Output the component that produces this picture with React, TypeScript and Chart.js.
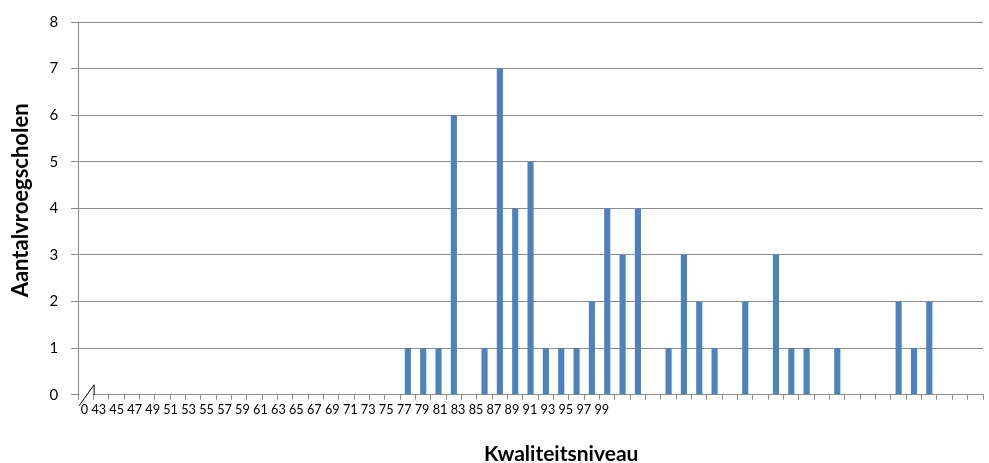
import React, { useEffect, useRef } from "react";
import { Chart, registerables } from "chart.js";

Chart.register(...registerables);

// Tick labels printed under the axis (one continuous row of text in the original)
const tickLabels: string[] = [
  "0", "43", "45", "47", "49", "51", "53", "55", "57", "59", "61", "63", "65", "67", "69",
  "71", "73", "75", "77", "79", "81", "83", "85", "87", "89", "91", "93", "95", "97", "99",
];

// 59 category slots on the x axis
const categories: string[] = [
  "c0", "c1", "c2", "c3", "c4", "c5", "c6", "c7", "c8", "c9",
  "c10", "c11", "c12", "c13", "c14", "c15", "c16", "c17", "c18", "c19",
  "c20", "c21", "c22", "c23", "c24", "c25", "c26", "c27", "c28", "c29",
  "c30", "c31", "c32", "c33", "c34", "c35", "c36", "c37", "c38", "c39",
  "c40", "c41", "c42", "c43", "c44", "c45", "c46", "c47", "c48", "c49",
  "c50", "c51", "c52", "c53", "c54", "c55", "c56", "c57", "c58",
];

// Aantal vroegscholen per category slot
const aantalVroegscholen: number[] = [
  0, 0, 0, 0, 0, 0, 0, 0, 0, 0,
  0, 0, 0, 0, 0, 0, 0, 0, 0, 0,
  0, 1, 1, 1, 6, 0, 1, 7, 4, 5,
  1, 1, 1, 2, 4, 3, 4, 0, 1, 3,
  2, 1, 0, 2, 0, 3, 1, 1, 0, 1,
  0, 0, 0, 2, 1, 2, 0, 0, 0,
];

const yTitle = "Aantalvroegscholen";
const xTitle = "Kwaliteitsniveau";

const GRID = "#8c8c8c";
const BAR = "#4F81BD";
const FONT = "Lato";

const axisBreak = {
  id: "axisBreak",
  afterDraw(chart: any) {
    const { ctx, chartArea } = chart;
    const l = chartArea.left;
    const b = chartArea.bottom;
    ctx.save();
    ctx.strokeStyle = "#ffffff";
    ctx.lineWidth = 3;
    ctx.beginPath();
    ctx.moveTo(l + 1.5, b);
    ctx.lineTo(l + 15, b);
    ctx.stroke();
    ctx.strokeStyle = "#000000";
    ctx.lineWidth = 1;
    ctx.beginPath();
    ctx.moveTo(l + 1, b + 11);
    ctx.lineTo(l + 16, b - 10);
    ctx.lineTo(l + 16, b);
    ctx.stroke();
    ctx.restore();
  },
};

export default function App() {
  const ref = useRef<HTMLCanvasElement | null>(null);

  useEffect(() => {
    if (!ref.current) return;
    Chart.defaults.font.family = FONT;
    const chart = new Chart(ref.current, {
      type: "bar",
      data: {
        labels: categories,
        datasets: [
          {
            label: yTitle,
            data: aantalVroegscholen,
            backgroundColor: BAR,
            borderWidth: 0,
            barPercentage: 0.4,
            categoryPercentage: 1.0,
          },
        ],
      },
      options: {
        animation: false,
        responsive: true,
        maintainAspectRatio: false,
        layout: { padding: { left: 0, right: 6, top: 20, bottom: 0 } },
        plugins: {
          legend: { display: false },
          tooltip: { enabled: false },
        },
        scales: {
          x: {
            offset: true,
            grid: {
              display: true,
              drawOnChartArea: false,
              drawTicks: true,
              tickLength: 5,
              color: GRID,
              offset: true,
            },
            border: { display: true, color: GRID },
            ticks: {
              autoSkip: false,
              maxRotation: 0,
              minRotation: 0,
              align: "start",
              labelOffset: -5,
              padding: 3,
              color: "#000",
              font: { family: FONT, size: 12.7 },
              callback: (_v: any, i: number) => (i === 0 ? tickLabels.join(" ") : ""),
            },
            title: {
              display: true,
              text: "            " + xTitle,
              color: "#000",
              font: { family: FONT, size: 21, weight: "bold", lineHeight: 1 },
              padding: { top: 23, bottom: -2 },
            },
          },
          y: {
            min: 0,
            max: 8,
            grid: { color: GRID, tickLength: 7, drawTicks: true },
            border: { display: true, color: GRID },
            ticks: {
              stepSize: 1,
              padding: 13,
              color: "#000",
              font: { family: FONT, size: 15 },
            },
            title: {
              display: true,
              text: "   " + yTitle,
              color: "#000",
              font: { family: FONT, size: 22, weight: "bold" },
              padding: { top: 8, bottom: 2 },
            },
          },
        },
      },
      plugins: [axisBreak],
    });
    return () => chart.destroy();
  }, []);

  return (
    <div style={{ position: "absolute", left: 0, top: 0, width: 989, height: 463, background: "#fff" }}>
      <canvas ref={ref} />
    </div>
  );
}
